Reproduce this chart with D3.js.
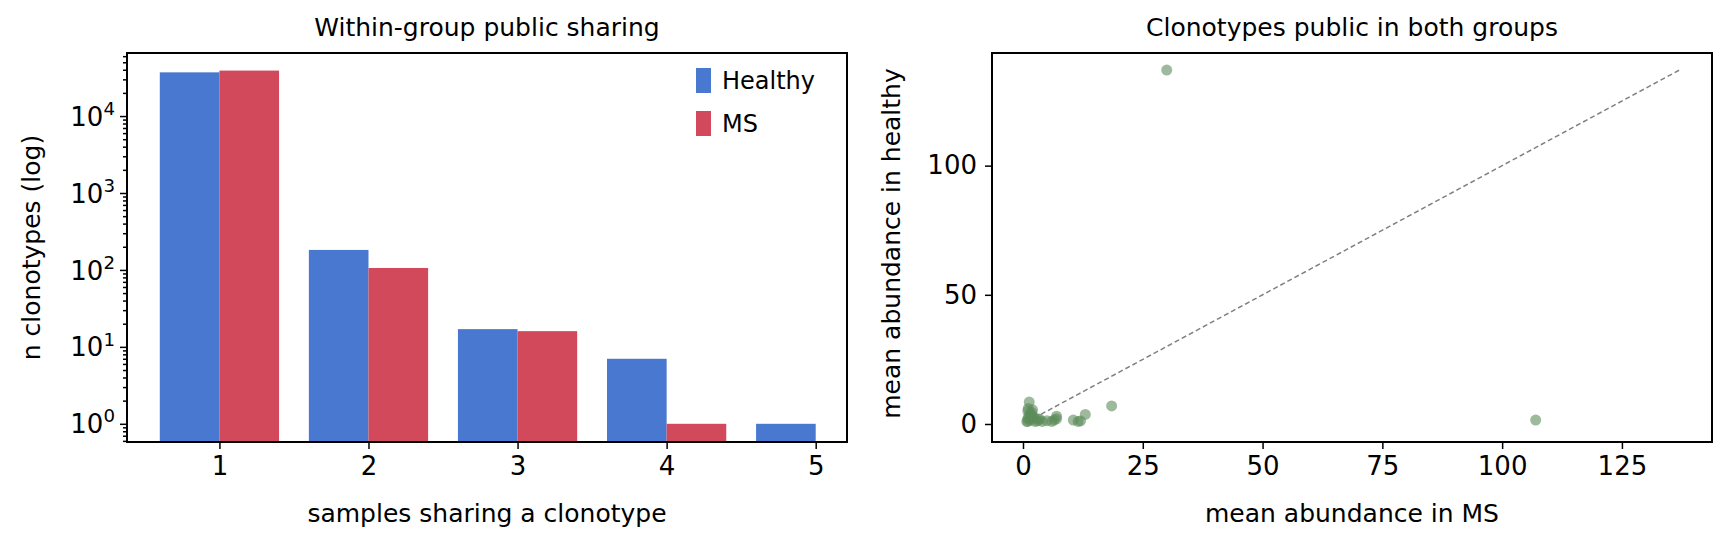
<!DOCTYPE html>
<html>
<head>
<meta charset="utf-8">
<script src="https://cdn.jsdelivr.net/npm/d3@7"></script>
<style>
  body { margin: 0; background: #fff; }
  text { font-family: "DejaVu Sans", sans-serif; fill: #000; }
</style>
</head>
<body>
<svg id="chart" width="1723" height="542"></svg>
<script>
// bar chart data
const sharingCounts = [1, 2, 3, 4, 5];
const healthyCounts = [37000, 182, 17, 7, 1];
const msCounts = [39000, 106, 16, 1, 0];
const groups = ["Healthy", "MS"];
const groupColors = ["#4878cf", "#d1495b"];

// scatter data: mean abundance in MS / in healthy
const msMean = [30, 107, 18.5, 13, 11.5, 10.5, 12, 7, 6.5, 6, 7, 4, 3, 1.3, 1, 1.5, 2, 1, 2.5, 1, 1.5, 2, 1.2, 3, 2.2, 1.8, 1.1, 0.8, 5, 3.5];
const healthyMean = [137, 1.5, 7, 3.7, 1, 1.5, 1.2, 3, 1.5, 1, 2, 1, 2, 8.5, 5, 4, 3, 2, 1, 1, 1.5, 5.5, 3, 1.2, 2.5, 4.5, 6, 1, 1.3, 1.8];
const scatterTicks = [0, 25, 50, 75, 100, 125];
const scatterYTicks = [0, 50, 100];

const svg = d3.select("#chart");
const tickFont = 26, labelFont = 25;

function frame(g, x0, y0, w, h) {
  g.append("rect").attr("x", x0).attr("y", y0).attr("width", w).attr("height", h)
    .attr("fill", "none").attr("stroke", "#000").attr("stroke-width", 2);
}

// ---- left panel: within-group sharing ----
const L = {left: 127, right: 847, top: 53, bottom: 442};
const x = d3.scaleLinear().domain([0.38, 5.21]).range([L.left, L.right]);
const y = d3.scaleLog().domain([0.58, 66000]).range([L.bottom, L.top]);
const barW = x(1.4) - x(1);

const left = svg.append("g");
const barData = [];
sharingCounts.forEach((c, i) => {
  barData.push({c: c, v: healthyCounts[i], g: 0});
  barData.push({c: c, v: msCounts[i], g: 1});
});
left.selectAll("rect.bar").data(barData.filter(d => d.v > 0)).enter()
  .append("rect")
  .attr("class", "bar")
  .attr("x", d => d.g === 0 ? x(d.c) - barW : x(d.c))
  .attr("y", d => y(d.v))
  .attr("width", barW)
  .attr("height", d => L.bottom - y(d.v))
  .attr("fill", d => groupColors[d.g]);

const xAxisL = left.append("g").attr("transform", `translate(0,${L.bottom})`)
  .call(d3.axisBottom(x).tickValues(sharingCounts).tickSize(7).tickPadding(8).tickFormat(d3.format("d")));
const majors = [1, 10, 100, 1000, 10000];
const minors = [];
for (let e = -1; e < 5; e++) for (let k = 2; k < 10; k++) {
  const v = k * Math.pow(10, e);
  if (v > 0.58 && v < 66000) minors.push(v);
}
left.append("g").attr("transform", `translate(${L.left},0)`)
  .call(d3.axisLeft(y).tickValues(minors).tickSize(4).tickFormat(""));
const yAxisL = left.append("g").attr("transform", `translate(${L.left},0)`)
  .call(d3.axisLeft(y).tickValues(majors).tickSize(7).tickFormat(""));
yAxisL.selectAll(".tick").append("text")
  .attr("x", -12).attr("dy", "0.35em").attr("text-anchor", "end")
  .style("font-size", tickFont + "px")
  .html(d => `10<tspan dy="-0.6em" font-size="${tickFont * 0.7}px">${Math.round(Math.log10(d))}</tspan>`);

frame(left, L.left, L.top, L.right - L.left, L.bottom - L.top);

left.append("text").attr("x", (L.left + L.right) / 2).attr("y", 36)
  .attr("text-anchor", "middle").style("font-size", labelFont + "px").text("Within-group public sharing");
left.append("text").attr("x", (L.left + L.right) / 2).attr("y", 522)
  .attr("text-anchor", "middle").style("font-size", labelFont + "px").text("samples sharing a clonotype");
left.append("text").attr("transform", `translate(40,${(L.top + L.bottom) / 2}) rotate(-90)`)
  .attr("text-anchor", "middle").style("font-size", labelFont + "px").text("n clonotypes (log)");

const legend = left.append("g");
groups.forEach((gname, i) => {
  legend.append("rect").attr("x", 696).attr("y", 68 + i * 43).attr("width", 15).attr("height", 25).attr("fill", groupColors[i]);
  legend.append("text").attr("x", 722).attr("y", 81 + i * 43).attr("dy", "0.35em")
    .style("font-size", "24px").text(gname);
});

// ---- right panel: public in both groups ----
const R = {left: 992, right: 1712, top: 53, bottom: 442};
const sx = d3.scaleLinear().domain([-6.47, 143.8]).range([R.left, R.right]);
const sy = d3.scaleLinear().domain([-6.97, 143.6]).range([R.bottom, R.top]);
const right = svg.append("g");

right.append("g").attr("transform", `translate(0,${R.bottom})`)
  .call(d3.axisBottom(sx).tickValues(scatterTicks).tickSize(7).tickPadding(8));
right.append("g").attr("transform", `translate(${R.left},0)`)
  .call(d3.axisLeft(sy).tickValues(scatterYTicks).tickSize(7).tickPadding(8));

const lo = Math.min(d3.min(msMean), d3.min(healthyMean));
const hi = Math.max(d3.max(msMean), d3.max(healthyMean));
right.append("line")
  .attr("x1", sx(lo)).attr("y1", sy(lo)).attr("x2", sx(hi)).attr("y2", sy(hi))
  .attr("stroke", "#808080").attr("stroke-width", 1.5).attr("stroke-dasharray", "5,3");

right.selectAll("circle").data(msMean.map((m, i) => ({m: m, h: healthyMean[i]}))).enter()
  .append("circle")
  .attr("cx", d => sx(d.m)).attr("cy", d => sy(d.h)).attr("r", 5.5)
  .attr("fill", "#5b8c5a").attr("fill-opacity", 0.6);

frame(right, R.left, R.top, R.right - R.left, R.bottom - R.top);

right.append("text").attr("x", (R.left + R.right) / 2).attr("y", 36)
  .attr("text-anchor", "middle").style("font-size", labelFont + "px").text("Clonotypes public in both groups");
right.append("text").attr("x", (R.left + R.right) / 2).attr("y", 522)
  .attr("text-anchor", "middle").style("font-size", labelFont + "px").text("mean abundance in MS");
right.append("text").attr("transform", `translate(900,${(R.top + R.bottom) / 2 - 4}) rotate(-90)`)
  .attr("text-anchor", "middle").style("font-size", labelFont + "px").text("mean abundance in healthy");

svg.selectAll(".tick text").style("font-size", tickFont + "px").style("font-family", "DejaVu Sans");
svg.selectAll(".tick line").attr("stroke", "#000").attr("stroke-width", 1.5);
svg.selectAll(".domain").remove();
</script>
</body>
</html>
